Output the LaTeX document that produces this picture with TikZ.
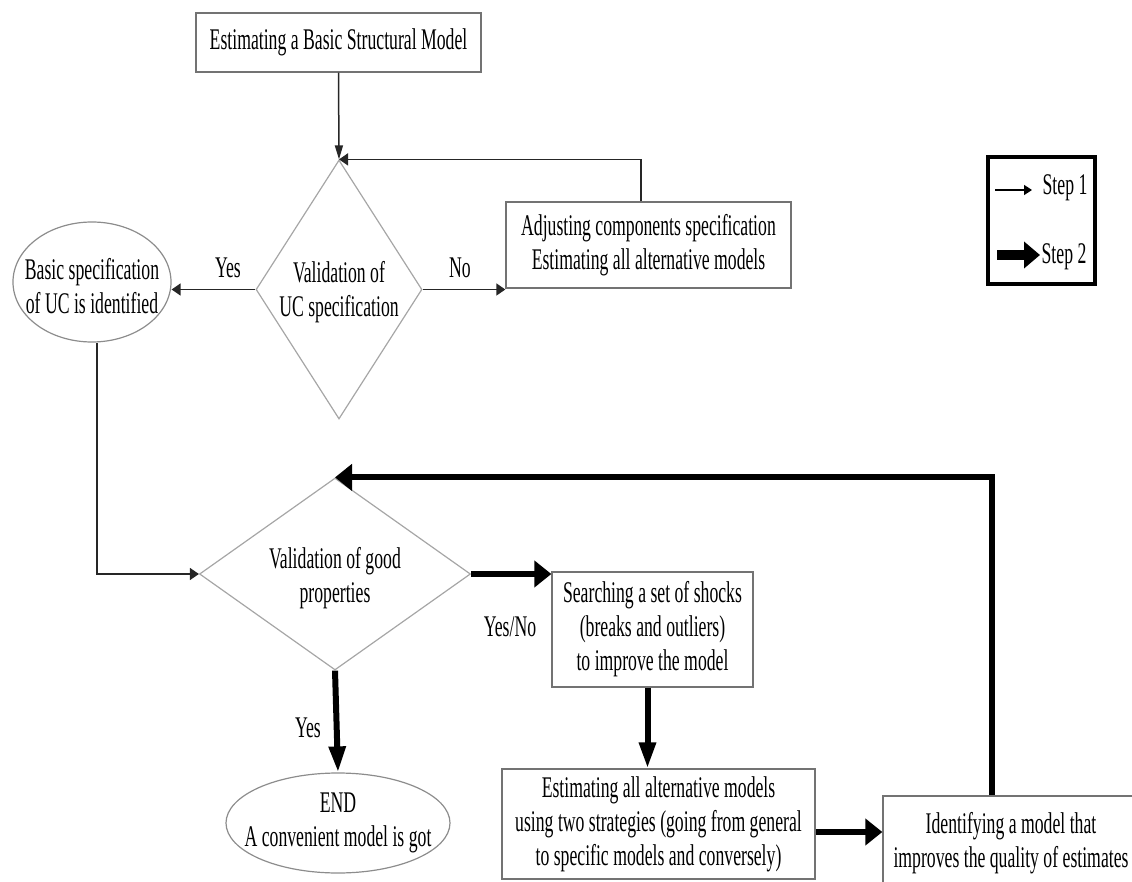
\documentclass[tikz,border=0pt]{standalone}
\usepackage{fontspec}
\setmainfont{Liberation Serif}[FakeStretch=0.59]
\usetikzlibrary{shapes.geometric,arrows.meta}
\begin{document}
\begin{tikzpicture}[x=1pt,y=-1pt,
  every node/.style={font=\fontsize{30}{34}\selectfont, inner sep=0pt},
  box/.style={draw=black!55, line width=1.3pt, rectangle, align=center},
  dia/.style={draw=black!35, line width=1.2pt, diamond},
  ell/.style={draw=black!45, line width=1.2pt, ellipse},
  lbl/.style={align=center},
  conna/.style={draw=black!85, line width=1.5pt},
  connb/.style={draw=black, line width=6pt},
  tipah/.style={-{Triangle[length=9pt,width=12pt]}},
  tipav/.style={-{Triangle[length=14pt,width=8pt]}},
  tipbh/.style={-{Triangle[length=17pt,width=26pt]}},
  tipbv/.style={-{Triangle[length=26pt,width=16pt]}}]
\useasboundingbox (0,0) rectangle (1132,882);
\clip (0,0) rectangle (1132,882);

% nodes
\node[box, minimum width=285, minimum height=59] (top) at (338.5,42.5) {Estimating a Basic Structural Model};
\node[dia, minimum width=166, minimum height=259] (d1) at (339,289.5) {};
\node[lbl] (d1t) at (339,292) {Validation of\\UC specification};
\node[ell, minimum width=158, minimum height=120] (e1) at (92,282) {};
\node[lbl] (e1t) at (92,286) {Basic specification\\of UC is identified};
\node[box, minimum width=285, minimum height=86] (adj) at (648.5,245) {Adjusting components specification\\Estimating all alternative models};
\node[dia, minimum width=271, minimum height=192] (d2) at (335,574) {};
\node[lbl] (d2t) at (335,578) {Validation of good\\properties};
\node[box, minimum width=201, minimum height=115] (srch) at (652.5,629.5) {Searching a set of shocks\\(breaks and outliers)\\to improve the model};
\node[ell, minimum width=224, minimum height=100] (e2) at (338,823) {};
\node[lbl] (e2t) at (338,823) {END\\A convenient model is got};
\node[box, minimum width=313, minimum height=110] (est) at (658.5,824) {Estimating all alternative models\\using two strategies (going from general\\to specific models and conversely)};
\node[box, minimum width=256, minimum height=95] (idf) at (1011,843.5) {Identifying a model that\\improves the quality of estimates};

% labels
\node[lbl] (yes1) at (228,268) {Yes};
\node[lbl] (no1) at (460,268) {No};
\node[lbl] (yesno) at (510,627) {Yes/No};
\node[lbl] (yes2) at (308,728) {Yes};

% step 1 connectors
\draw[conna, tipav] (top.south) -- (d1.north);
\draw[conna, tipah] ([xshift=-7.5pt]adj.north) |- (d1.north);
\draw[conna, tipah] (d1.west) -- (d1.west -| e1.east);
\draw[conna, tipah] (d1.east) -- (d1.east -| adj.west);
\draw[conna, tipah] ([xshift=5pt]e1.south) |- (d2.west);

% step 2 connectors
\draw[connb, tipbh] (d2.east) -- (d2.east -| srch.west);
\draw[connb, tipbv] (d2.south) -- (e2.north);
\draw[connb, tipbv] ([xshift=-5pt]srch.south) -- ([xshift=-5pt]srch.south |- est.north);
\draw[connb, tipbh] ([yshift=-8pt]est.east) -- ([yshift=-8pt]est.east -| idf.west);
\draw[connb, tipbh] ([xshift=-19pt]idf.north) |- (d2.north);

% legend
\node[draw=black, line width=4pt, minimum width=107, minimum height=127] (leg) at (1041.5,220.5) {};
\coordinate (s1a) at (995,190);
\coordinate (s1b) at (1032,190);
\draw[draw=black, line width=1.5pt, -{Triangle[length=8pt,width=10pt]}] (s1a) -- (s1b);
\node[lbl] (s1) at (1065,188) {Step 1};
\coordinate (s2a) at (997,255);
\coordinate (s2b) at (1040,255);
\draw[draw=black, line width=10pt, -{Triangle[length=16pt,width=26pt]}] (s2a) -- (s2b);
\node[lbl] (s2) at (1064,257) {Step 2};
\end{tikzpicture}
\end{document}
